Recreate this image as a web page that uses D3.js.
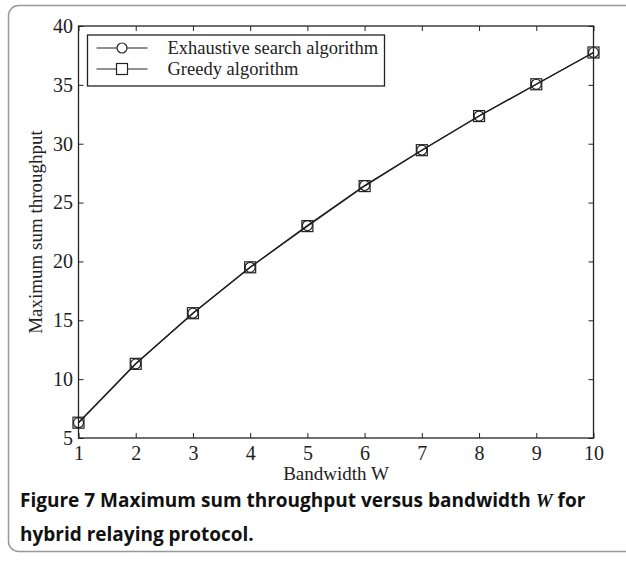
<!DOCTYPE html>
<html>
<head>
<meta charset="utf-8">
<script src="https://cdn.jsdelivr.net/npm/d3@7"></script>
<style>
  body { margin: 0; background: #fff; }
  svg { display: block; }
</style>
</head>
<body>
<svg id="chart" width="626" height="563"></svg>
<script>
// data
const bandwidth = [1, 2, 3, 4, 5, 6, 7, 8, 9, 10];
const exhaustive = [6.3, 11.3, 15.6, 19.5, 23.05, 26.45, 29.45, 32.35, 35.05, 37.75];
const greedy = [6.3, 11.3, 15.6, 19.5, 23.0, 26.4, 29.45, 32.35, 35.05, 37.75];
const xTicks = [1, 2, 3, 4, 5, 6, 7, 8, 9, 10];
const yTicks = [5, 10, 15, 20, 25, 30, 35, 40];
const seriesNames = ["Exhaustive search algorithm", "Greedy algorithm"];

const svg = d3.select("#chart");
const margin = { left: 78.5, right: 32.5, top: 26, bottom: 125 };
const width = 626 - margin.left - margin.right;
const height = 563 - margin.top - margin.bottom;
const serif = "'Liberation Serif', 'Times New Roman', serif";

// card border
svg.append("rect")
  .attr("x", 8.5).attr("y", 5.5)
  .attr("width", 640).attr("height", 546)
  .attr("rx", 10).attr("ry", 10)
  .attr("fill", "none")
  .attr("stroke", "#999")
  .attr("stroke-width", 1.5);

const g = svg.append("g")
  .attr("transform", "translate(" + margin.left + "," + margin.top + ")");

const x = d3.scaleLinear().domain([1, 10]).range([0, width]);
const y = d3.scaleLinear().domain([5, 40]).range([height, 0]);

// axes, ticks pointing inward, mirrored on top/right
function styleAxis(sel) {
  sel.select(".domain").remove();
  sel.selectAll("line").attr("stroke", "#222").attr("stroke-width", 1);
  sel.selectAll("text")
    .attr("fill", "#222")
    .style("font-family", serif)
    .style("font-size", "20px");
}

g.append("g")
  .attr("transform", "translate(0," + height + ")")
  .call(d3.axisBottom(x).tickValues(xTicks).tickSize(-5).tickPadding(8))
  .call(styleAxis);
g.append("g")
  .call(d3.axisTop(x).tickValues(xTicks).tickSize(-5).tickFormat(""))
  .call(styleAxis);
g.append("g")
  .call(d3.axisLeft(y).tickValues(yTicks).tickSize(-5).tickPadding(5.5))
  .call(styleAxis);
g.append("g")
  .attr("transform", "translate(" + width + ",0)")
  .call(d3.axisRight(y).tickValues(yTicks).tickSize(-5).tickFormat(""))
  .call(styleAxis);

g.append("rect")
  .attr("width", width).attr("height", height)
  .attr("fill", "none")
  .attr("stroke", "#222")
  .attr("stroke-width", 1.3);

// axis titles
g.append("text")
  .attr("x", width / 2)
  .attr("y", height + 42)
  .attr("text-anchor", "middle")
  .attr("fill", "#222")
  .style("font-family", serif)
  .style("font-size", "19px")
  .text("Bandwidth W");

g.append("text")
  .attr("transform", "translate(-36.5," + height / 2 + ") rotate(-90)")
  .attr("text-anchor", "middle")
  .attr("fill", "#222")
  .style("font-family", serif)
  .style("font-size", "19px")
  .text("Maximum sum throughput");

// lines and markers
const line = d3.line()
  .x((d, i) => x(bandwidth[i]))
  .y(d => y(d));

[exhaustive, greedy].forEach(vals => {
  g.append("path")
    .datum(vals)
    .attr("d", line)
    .attr("fill", "none")
    .attr("stroke", "#222")
    .attr("stroke-width", 1.3);
});

g.selectAll(".circ")
  .data(exhaustive)
  .enter()
  .append("circle")
  .attr("cx", (d, i) => x(bandwidth[i]))
  .attr("cy", d => y(d))
  .attr("r", 5)
  .attr("fill", "none")
  .attr("stroke", "#222")
  .attr("stroke-width", 1.2);

g.selectAll(".sq")
  .data(greedy)
  .enter()
  .append("rect")
  .attr("x", (d, i) => x(bandwidth[i]) - 5.5)
  .attr("y", d => y(d) - 5.5)
  .attr("width", 11)
  .attr("height", 11)
  .attr("fill", "none")
  .attr("stroke", "#222")
  .attr("stroke-width", 1.2);

// legend
const legend = g.append("g").attr("transform", "translate(9,9)");
legend.append("rect")
  .attr("width", 297).attr("height", 51)
  .attr("fill", "#fff")
  .attr("stroke", "#222")
  .attr("stroke-width", 1.3);

seriesNames.forEach((name, i) => {
  const ly = 13 + i * 21;
  legend.append("line")
    .attr("x1", 9).attr("x2", 60)
    .attr("y1", ly).attr("y2", ly)
    .attr("stroke", "#222").attr("stroke-width", 1.2);
  if (i === 0) {
    legend.append("circle")
      .attr("cx", 34.5).attr("cy", ly).attr("r", 5)
      .attr("fill", "#fff").attr("stroke", "#222").attr("stroke-width", 1.2);
  } else {
    legend.append("rect")
      .attr("x", 29).attr("y", ly - 5.5).attr("width", 11).attr("height", 11)
      .attr("fill", "#fff").attr("stroke", "#222").attr("stroke-width", 1.2);
  }
  legend.append("text")
    .attr("x", 80).attr("y", ly + 6)
    .attr("fill", "#222")
    .style("font-family", serif)
    .style("font-size", "18.5px")
    .text(name);
});

// caption
const cap = svg.append("text")
  .attr("fill", "#111")
  .style("font-family", "'Open Sans', sans-serif")
  .style("font-weight", "bold")
  .style("font-size", "19px");
const l1 = cap.append("tspan").attr("x", 20).attr("y", 507);
l1.append("tspan").text("Figure 7 Maximum sum throughput versus bandwidth ");
l1.append("tspan")
  .style("font-family", serif)
  .style("font-style", "italic")
  .style("font-weight", "bold")
  .text("W");
l1.append("tspan").text(" for");
cap.append("tspan").attr("x", 20).attr("y", 541).text("hybrid relaying protocol.");
</script>
</body>
</html>
